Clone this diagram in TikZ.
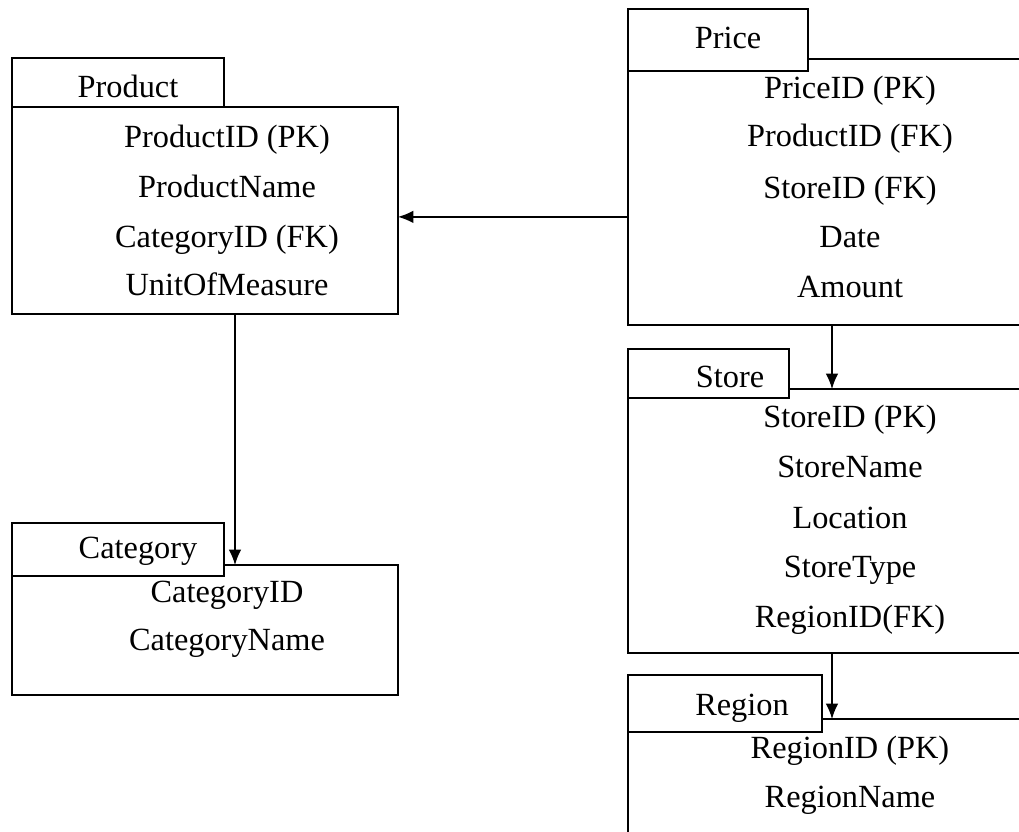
\documentclass[tikz,border=0pt]{standalone}
\usepackage{fontspec}
\setmainfont{Liberation Serif}
\usetikzlibrary{arrows.meta}
\tikzset{
  >={Latex[length=11pt,width=9pt]},
  tblbody/.style 2 args={draw, line width=1pt, inner sep=0pt, outer sep=0pt,
    minimum width=#1*0.025cm, minimum height=#2*0.025cm},
  tbltab/.style 2 args={tblbody={#1}{#2}, fill=white},
  field/.style={inner sep=0pt, text height=15.5pt, text depth=0pt,
    font=\fontsize{23}{27}\selectfont}
}
\begin{document}
\begin{tikzpicture}[x=0.025cm, y=-0.025cm]
    \useasboundingbox (0, 0) rectangle (1019, 832);
    % table bodies
    \node[tblbody={386}{207}] (product) at(205, 210.5) {};
    \node[tblbody={386}{130}] (category) at(205, 630) {};
    \node[tblbody={408}{266}] (price) at(832, 192) {};
    \node[tblbody={408}{264}] (store) at(832, 521) {};
    \node[tblbody={408}{141}] (region) at(832, 789.5) {};
    % tabs with the table names
    \node[tbltab={212}{49}] (producttab) at(118, 82.5) {};
    \node[tbltab={212}{53}] (categorytab) at(118, 549.5) {};
    \node[tbltab={180}{62}] (pricetab) at(718, 40) {};
    \node[tbltab={161}{49}] (storetab) at(708.5, 373.5) {};
    \node[tbltab={194}{57}] (regiontab) at(725, 703.5) {};
    \node[field] (productname) at(128, 87) {Product};
    \node[field] (categoryname) at(138, 548) {Category};
    \node[field] (pricename) at(728, 38) {Price};
    \node[field] (storename) at(730, 377) {Store};
    \node[field] (regionname) at(742, 705) {Region};
    % Product
    \node[field] (p1) at(227, 137) {ProductID (PK)};
    \node[field] (p2) at(227, 187) {ProductName};
    \node[field] (p3) at(227, 237) {CategoryID (FK)};
    \node[field] (p4) at(227, 285) {UnitOfMeasure};
    % Category
    \node[field] (c1) at(227, 592) {CategoryID};
    \node[field] (c2) at(227, 640) {CategoryName};
    % Price
    \node[field] (pr1) at(850, 88) {PriceID (PK)};
    \node[field] (pr2) at(850, 136) {ProductID (FK)};
    \node[field] (pr3) at(850, 188) {StoreID (FK)};
    \node[field] (pr4) at(850, 237) {Date};
    \node[field] (pr5) at(850, 287) {Amount};
    % Store
    \node[field] (s1) at(850, 417) {StoreID (PK)};
    \node[field] (s2) at(850, 467) {StoreName};
    \node[field] (s3) at(850, 518) {Location};
    \node[field] (s4) at(850, 567) {StoreType};
    \node[field] (s5) at(850, 617) {RegionID(FK)};
    % Region
    \node[field] (r1) at(850, 748) {RegionID (PK)};
    \node[field] (r2) at(850, 797) {RegionName};
    % links
    \coordinate (productin) at ([yshift=-0.16cm]product.east);
    \draw[->, line width=1pt] (price.west |- productin) -- (productin);
    \draw[->, line width=1pt] ([xshift=0.75cm]product.south) -- ([xshift=0.75cm]category.north);
    \draw[->, line width=1pt] (price.south) -- (store.north);
    \draw[->, line width=1pt] (store.south) -- (region.north);
\end{tikzpicture}
\end{document}
